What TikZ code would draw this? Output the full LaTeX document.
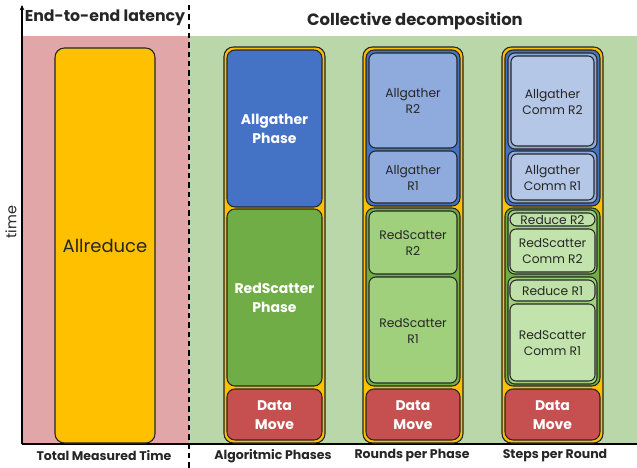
\documentclass[tikz,border=0pt]{standalone}
\usepackage{fontspec}
\setmainfont{Poppins}
\usetikzlibrary{arrows.meta,fit,patterns}
\definecolor{pinkbg}{HTML}{E0A6A8}
\definecolor{greenbg}{HTML}{B9D7A8}
\definecolor{orng}{HTML}{FFC000}
\definecolor{bluephase}{HTML}{4472C4}
\definecolor{greenphase}{HTML}{70AD47}
\definecolor{redmove}{HTML}{C5504F}
\definecolor{blueround}{HTML}{8FAADC}
\definecolor{bluestep}{HTML}{B4C7E7}
\definecolor{greenround}{HTML}{A0D07C}
\definecolor{greenstep}{HTML}{C2E4AC}
\definecolor{outl}{HTML}{262626}
% box: name, box style, x1, y1, x2, y2
\newcommand{\bx}[6]{\node[#2, fit={(#3,#4) (#5,#6)}] (#1) {};}
% box with text: name, box style, x1, y1, x2, y2, text style, text
\newcommand{\tbx}[8]{\node[#2, fit={(#3,#4) (#5,#6)}] (#1) {};
  \node[#7] (#1-t) at ([yshift=-0.5pt]#1.center) {#8};}
\tikzset{
  base/.style={draw=outl, line width=0.8pt, inner sep=0pt},
  container/.style={base, rounded corners=6pt},
  roundbox/.style={base, rounded corners=5pt},
  stepbox/.style={base, rounded corners=4.5pt},
  txt/.style={inner sep=0pt, align=center, text=outl},
  phasetxt/.style={txt, text=white, font=\fontsize{10.5}{14.2}\selectfont\bfseries},
  smalltxt/.style={txt, font=\fontsize{9.2}{12}\selectfont},
  tinytxt/.style={txt, font=\fontsize{9.2}{10}\selectfont},
  hdr/.style={font=\fontsize{11.8}{13}\selectfont\bfseries, text=outl},
  bottomlbl/.style={font=\fontsize{9.4}{10}\selectfont\bfseries, text=outl},
  reducebox/.style={stepbox, rounded corners=5pt, preaction={fill=greenstep}, pattern=crosshatch dots, pattern color=greenphase!60},
}
\begin{document}
\begin{tikzpicture}[x=0.75pt,y=-0.75pt]
\useasboundingbox (0,0) rectangle (637,468);
% backgrounds
\fill[pinkbg] (22,36) rectangle (189,444);
\fill[greenbg] (189,36) rectangle (637,444);
% axes
\coordinate (origin) at (22,444);
\coordinate (ytop) at (22,5);
\coordinate (xend) at (637,444);
\draw[line width=0.9pt, -{Stealth[length=4pt,width=3.5pt]}] (origin) -- (ytop);
\draw[line width=0.9pt] (origin) -- (xend);
\coordinate (dtop) at (189,5);
\coordinate (dbot) at (189,468);
\draw[dashed, line width=0.8pt, dash pattern=on 4pt off 3pt] (dtop) -- (dbot);
\node[rotate=90, font=\fontsize{10.8}{12}\selectfont, text=outl] (timelbl) at (11,222) {time};
% headers
\node[hdr] (h1) at (105,18) {End-to-end latency};
\node[hdr, font=\fontsize{12.3}{13}\selectfont\bfseries] (h2) at (415,21) {Collective decomposition};
% Allreduce
\tbx{allreduce}{container, fill=orng, rounded corners=7pt}{55}{48}{155}{443}{txt, font=\fontsize{13.5}{15}\selectfont}{Allreduce}
% Column 2
\bx{c2o}{container, fill=orng, rounded corners=7pt}{224}{47}{325}{443}
\tbx{c2ag}{container, fill=bluephase}{227}{50}{322}{207}{phasetxt}{Allgather\\Phase}
\tbx{c2rs}{container, fill=greenphase}{227}{209}{322}{386}{phasetxt}{RedScatter\\Phase}
\tbx{c2dm}{container, fill=redmove}{227}{389}{322}{440}{phasetxt}{Data\\Move}
% Column 3
\bx{c3o}{container, fill=orng, rounded corners=7pt}{363}{47}{463}{443}
\bx{c3ag}{container, fill=bluephase}{366}{50}{460}{206}
\tbx{c3agr2}{roundbox, fill=blueround}{369}{53}{457}{148}{smalltxt}{Allgather\\R2}
\tbx{c3agr1}{roundbox, fill=blueround}{369}{151}{457}{203}{smalltxt}{Allgather\\R1}
\bx{c3rs}{container, fill=greenphase}{366}{208}{460}{386}
\tbx{c3rsr2}{roundbox, fill=greenround}{369}{211}{457}{274}{smalltxt}{RedScatter\\R2}
\tbx{c3rsr1}{roundbox, fill=greenround}{369}{277}{457}{383}{smalltxt}{RedScatter\\R1}
\tbx{c3dm}{container, fill=redmove}{366}{389}{460}{440}{phasetxt}{Data\\Move}
% Column 4
\bx{c4o}{container, fill=orng, rounded corners=7pt}{502}{47}{603}{443}
\bx{c4ag}{container, fill=bluephase}{505}{50}{600}{206}
\bx{c4agr2}{roundbox, fill=blueround}{508}{53}{597}{149}
\tbx{c4agr2s}{stepbox, fill=bluestep}{511}{56}{594}{146}{smalltxt}{Allgather\\Comm R2}
\bx{c4agr1}{roundbox, fill=blueround}{508}{151}{597}{203}
\tbx{c4agr1s}{stepbox, fill=bluestep}{511}{154}{594}{200}{smalltxt}{Allgather\\Comm R1}
\bx{c4rs}{container, fill=greenphase}{505}{208}{600}{386}
\bx{c4rsr2}{roundbox, fill=greenround}{508}{210}{597}{274}
\tbx{c4red2}{reducebox}{510}{213}{595}{226}{tinytxt}{Reduce R2}
\tbx{c4rsr2s}{stepbox, fill=greenstep}{510}{229}{595}{272}{smalltxt}{RedScatter\\Comm R2}
\bx{c4rsr1}{roundbox, fill=greenround}{508}{277}{597}{384}
\tbx{c4red1}{reducebox}{510}{280}{595}{301}{tinytxt}{Reduce R1}
\tbx{c4rsr1s}{stepbox, fill=greenstep}{510}{304}{595}{381}{smalltxt}{RedScatter\\Comm R1}
\tbx{c4dm}{container, fill=redmove}{505}{389}{600}{440}{phasetxt}{Data\\Move}
% bottom labels
\node[bottomlbl] (b1) at (104,456) {Total Measured Time};
\node[bottomlbl] (b2) at (273,456) {Algoritmic Phases};
\node[bottomlbl] (b3) at (412,456) {Rounds per Phase};
\node[bottomlbl] (b4) at (555,456) {Steps per Round};
\end{tikzpicture}
\end{document}
